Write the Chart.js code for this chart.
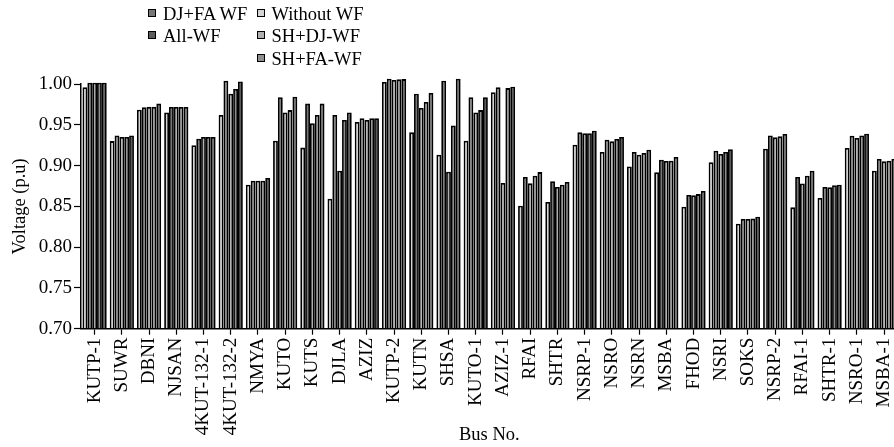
<!DOCTYPE html>
<html>
<head>
<meta charset="utf-8">
<script src="https://cdn.jsdelivr.net/npm/chart.js@4/dist/chart.umd.min.js"></script>
<style>
  html, body { margin: 0; padding: 0; background: #fff; overflow: hidden; width: 894px; height: 447px; }
  #wrap { position: absolute; left: 0; top: 0; width: 910px; height: 447px; }
  .lg { position: absolute; font-family: 'Liberation Serif', 'Times New Roman', serif; font-size: 18.5px; color: #000; white-space: nowrap; line-height: 1; }
  .lg i { position: absolute; width: 6px; height: 6px; border: 1.5px solid #000; top: 4px; }
  .lg span { position: absolute; left: 15px; top: 0; }
</style>
</head>
<body>
<div id="wrap"><canvas id="c" width="910" height="447"></canvas></div>
<div id="legend"></div>
<script>
const categories = ['KUTP-1','SUWR','DBNI','NJSAN','4KUT-132-1','4KUT-132-2','NMYA','KUTO','KUTS','DJLA','AZIZ','KUTP-2','KUTN','SHSA','KUTO-1','AZIZ-1','RFAI','SHTR','NSRP-1','NSRO','NSRN','MSBA','FHOD','NSRI','SOKS','NSRP-2','RFAI-1','SHTR-1','NSRO-1','MSBA-1'];

const withoutWF = [0.996,0.930,0.9685,0.965,0.925,0.962,0.8766,0.9305,0.922,0.8594,0.9534,1.0025,0.9407,0.9134,0.9305,0.990,0.8508,0.8553,0.9256,0.9166,0.899,0.8917,0.8496,0.904,0.8288,0.9207,0.8488,0.8602,0.9215,0.8937];
const djfaWF    = [1.0016,0.937,0.9714,0.9718,0.933,1.004,0.8815,0.9837,0.976,0.962,0.958,1.0065,0.988,1.004,0.9837,0.996,0.886,0.8807,0.9407,0.9317,0.9166,0.9072,0.8639,0.9183,0.8345,0.937,0.886,0.8737,0.9366,0.908];
const shdjWF    = [1.0016,0.935,0.972,0.9718,0.935,0.988,0.8815,0.965,0.952,0.8937,0.956,1.005,0.9706,0.8925,0.965,0.8786,0.8782,0.8737,0.9395,0.9297,0.9134,0.9056,0.8635,0.9142,0.8345,0.9346,0.878,0.8733,0.9338,0.9052];
const shfaWF    = [1.0016,0.935,0.972,0.9718,0.935,0.994,0.8815,0.968,0.962,0.956,0.958,1.0057,0.978,0.949,0.968,0.995,0.8876,0.8766,0.9395,0.9326,0.9154,0.906,0.865,0.9166,0.835,0.9358,0.8876,0.8758,0.937,0.906];
const allWF     = [1.0016,0.937,0.976,0.9718,0.935,1.003,0.8847,0.9845,0.976,0.965,0.958,1.006,0.989,1.0065,0.9837,0.9967,0.892,0.8798,0.9428,0.935,0.9195,0.9105,0.8688,0.920,0.8373,0.9387,0.8937,0.8766,0.939,0.908];

const yTicks = [0.70,0.75,0.80,0.85,0.90,0.95,1.00];

const seriesNames = ['Without WF','DJ+FA WF','SH+DJ-WF','SH+FA-WF','All-WF'];
const seriesData = [withoutWF, djfaWF, shdjWF, shfaWF, allWF];
const seriesColors = ['#d4d4d4','#777777','#b0b0b0','#8e8e8e','#5c5c5c'];

const FONT = "'Liberation Serif', 'Times New Roman', serif";

const datasets = seriesNames.map((n, i) => ({
  label: n,
  data: seriesData[i],
  base: 0.70,
  backgroundColor: seriesColors[i],
  borderColor: '#000',
  borderWidth: 1.8,
  borderSkipped: 'bottom',
  categoryPercentage: 0.89,
  barPercentage: 1.0,
  clip: false
}));

new Chart(document.getElementById('c'), {
  type: 'bar',
  data: { labels: categories, datasets },
  options: {
    responsive: false,
    animation: false,
    devicePixelRatio: 1,
    layout: { padding: { left: 0, top: 84, right: 7, bottom: 0 } },
    plugins: { legend: { display: false }, tooltip: { enabled: false } },
    scales: {
      x: {
        offset: true,
        grid: { display: true, drawOnChartArea: false, drawTicks: true, tickLength: 6, tickColor: '#000', tickWidth: 1.2, offset: false },
        border: { display: true, color: '#000', width: 1.5, z: 1 },
        ticks: { color: '#000', font: { family: FONT, size: 19 }, minRotation: 90, maxRotation: 90, autoSkip: false, padding: 3 },
        title: { display: true, text: 'Bus No.', color: '#000', font: { family: FONT, size: 18.5 }, padding: { top: 0, bottom: 1 } },
        afterFit: s => { s.height = 447 - 328.7; }
      },
      y: {
        min: 0.70, max: 1.00,
        afterBuildTicks: s => { s.ticks = yTicks.map(v => ({ value: v })); },
        grid: { display: true, drawOnChartArea: false, drawTicks: true, tickLength: 7, tickColor: '#000', tickWidth: 1.2 },
        border: { display: true, color: '#000', width: 1.5 },
        ticks: { color: '#000', font: { family: FONT, size: 19 }, padding: 2, callback: v => Number(v).toFixed(2) },
        title: { display: true, text: 'Voltage (p.u)', color: '#000', font: { family: FONT, size: 18.5 }, padding: { top: 9, bottom: 0 } },
        afterFit: s => { s.width = 81; }
      }
    }
  }
});

// legend (HTML text)
const legendItems = [
  { name: 'DJ+FA WF', color: seriesColors[1], x: 148, y: 5 },
  { name: 'Without WF', color: seriesColors[0], x: 256.5, y: 5 },
  { name: 'All-WF', color: seriesColors[4], x: 148, y: 27.3 },
  { name: 'SH+DJ-WF', color: seriesColors[2], x: 256.5, y: 27.3 },
  { name: 'SH+FA-WF', color: seriesColors[3], x: 256.5, y: 49.6 }
];
const lg = document.getElementById('legend');
legendItems.forEach(it => {
  const d = document.createElement('div');
  d.className = 'lg';
  d.style.left = it.x + 'px';
  d.style.top = it.y + 'px';
  d.innerHTML = '<i style="background:' + it.color + '"></i><span></span>';
  d.querySelector('span').textContent = it.name;
  lg.appendChild(d);
});
</script>
</body>
</html>
